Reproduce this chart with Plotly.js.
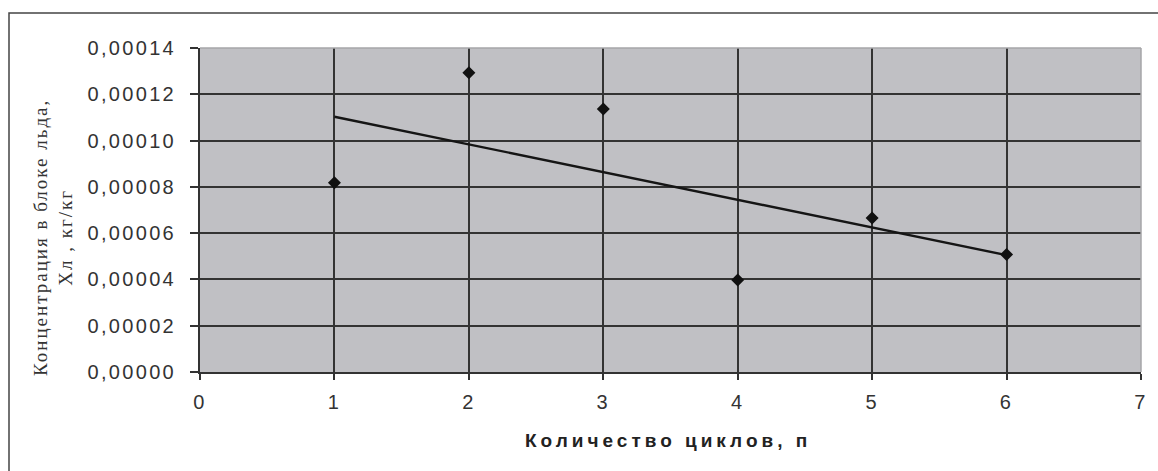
<!DOCTYPE html>
<html>
<head>
<meta charset="utf-8">
<script src="https://cdn.plot.ly/plotly-3.0.1.min.js"></script>
<style>
  html, body { margin: 0; padding: 0; background: #fff; }
  #chart { width: 1158px; height: 471px; }
  .xtick text, .ytick text { letter-spacing: 2.3px; }
  g.annotation[data-index="0"] text { letter-spacing: 4px; }
  g.annotation[data-index="1"] text { letter-spacing: 2px; }
</style>
</head>
<body>
<div id="chart"></div>
<script>
// Data
const cycles = [1, 2, 3, 4, 5, 6];
const concentration = [0.0000818, 0.0001293, 0.0001136, 0.0000397, 0.0000665, 0.0000508];
const trendX = [1, 6];
const trendY = [0.0001103, 0.0000505];
const yTickVals = [0, 0.00002, 0.00004, 0.00006, 0.00008, 0.0001, 0.00012, 0.00014];
const xTickVals = [0, 1, 2, 3, 4, 5, 6, 7];
const xTitle = 'Количество циклов, п';
const yTitle = 'Концентрация в блоке льда,<br>Хл , кг/кг';

const traces = [
  {
    x: trendX, y: trendY, type: 'scatter', mode: 'lines',
    line: { color: '#151515', width: 2.4 }, hoverinfo: 'skip'
  },
  {
    x: cycles, y: concentration, type: 'scatter', mode: 'markers',
    marker: { symbol: 'diamond', size: 10, color: '#111111' }
  }
];

const tickFont = { family: 'Liberation Sans, Arial, sans-serif', size: 20, color: '#333333' };

const layout = {
  width: 1158, height: 471,
  margin: { l: 200, r: 17, t: 48, b: 99 },
  paper_bgcolor: '#ffffff',
  plot_bgcolor: '#c0c0c4',
  showlegend: false,
  separators: ', ',
  xaxis: {
    range: [0, 7], tickvals: xTickVals, ticktext: xTickVals.map(String),
    showgrid: true, gridcolor: '#333333', gridwidth: 2,
    showline: true, linecolor: '#333333', linewidth: 2,
    zeroline: false,
    ticks: 'outside', ticklen: 6, tickcolor: '#333333', tickwidth: 2,
    tickfont: tickFont, ticklabelstandoff: 5
  },
  yaxis: {
    range: [0, 0.00014], tickvals: yTickVals, tickformat: '.5f',
    showgrid: true, gridcolor: '#333333', gridwidth: 2,
    showline: true, linecolor: '#333333', linewidth: 2,
    zeroline: false,
    ticks: 'outside', ticklen: 8, tickcolor: '#333333', tickwidth: 2,
    tickfont: tickFont, ticklabelstandoff: 10
  },
  shapes: [
    { type: 'line', xref: 'paper', yref: 'paper', x0: 0, x1: 1, y0: 1, y1: 1,
      line: { color: '#a6a6a8', width: 1.5 } },
    { type: 'line', xref: 'paper', yref: 'paper', x0: 1, x1: 1, y0: 0, y1: 1,
      line: { color: '#a6a6a8', width: 1.5 } },
    { type: 'rect', xref: 'paper', yref: 'paper',
      x0: (9 - 200) / 941, x1: (1165 - 200) / 941,
      y0: (372 - 480) / 324, y1: 1 + (48 - 13) / 324,
      line: { color: '#444444', width: 1.5 }, fillcolor: 'rgba(0,0,0,0)', layer: 'below' }
  ],
  annotations: [
    { text: '<b>' + xTitle + '</b>', xref: 'paper', yref: 'paper',
      x: (668 - 200) / 941, y: (372 - 440) / 324, xanchor: 'center', yanchor: 'middle',
      showarrow: false, align: 'center',
      font: { family: 'Liberation Sans, Arial, sans-serif', size: 19, color: '#222222' } },
    { text: yTitle, xref: 'paper', yref: 'paper',
      x: (53 - 200) / 941, y: (372 - 238) / 324, xanchor: 'center', yanchor: 'middle',
      showarrow: false, align: 'center', textangle: -90,
      font: { family: 'Liberation Serif, Times New Roman, serif', size: 19, color: '#333333' } }
  ]
};

Plotly.newPlot('chart', traces, layout, { staticPlot: true, displayModeBar: false });
</script>
</body>
</html>
